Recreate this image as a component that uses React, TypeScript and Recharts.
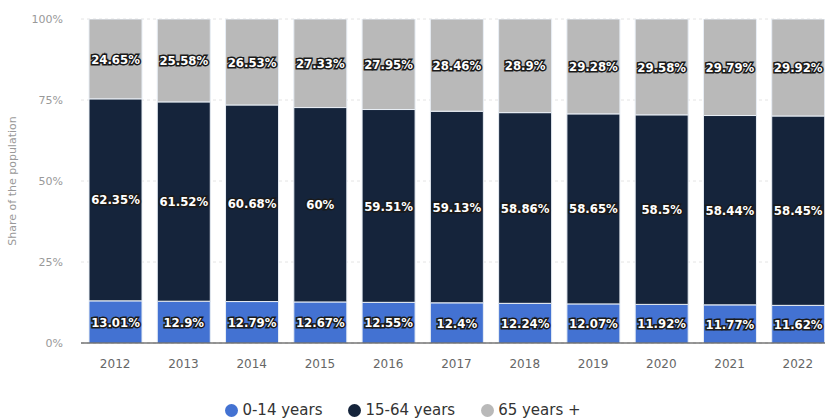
import { BarChart, Bar, XAxis, YAxis, CartesianGrid, Legend, LabelList } from "recharts";

const years = ["2012", "2013", "2014", "2015", "2016", "2017", "2018", "2019", "2020", "2021", "2022"];
const young = [13.01, 12.9, 12.79, 12.67, 12.55, 12.4, 12.24, 12.07, 11.92, 11.77, 11.62];
const working = [62.35, 61.52, 60.68, 60, 59.51, 59.13, 58.86, 58.65, 58.5, 58.44, 58.45];
const elderly = [24.65, 25.58, 26.53, 27.33, 27.95, 28.46, 28.9, 29.28, 29.58, 29.79, 29.92];
const yTicks = [0, 25, 50, 75, 100];

const data = years.map((year, i) => ({
  year,
  young: young[i],
  working: working[i],
  elderly: elderly[i],
}));

const labelStyle = {
  fill: "#fff",
  stroke: "#1a1a1a",
  strokeWidth: 3,
  paintOrder: "stroke",
  fontFamily: "'DejaVu Sans Condensed', 'DejaVu Sans', sans-serif",
  fontWeight: 700,
  fontSize: 13,
} as const;

const fmt = (v: any) => `${v}%`;

export default function App() {
  return (
    <div style={{ position: "absolute", left: 0, top: 0, width: 825, height: 419, overflow: "hidden", background: "#fff" }}>
      <BarChart
        width={840}
        height={419}
        data={data}
        margin={{ top: 19, right: 8, left: 0, bottom: 0 }}
        style={{ fontFamily: "'DejaVu Sans', sans-serif" }}
      >
        <CartesianGrid vertical={false} stroke="#e4e4e4" strokeDasharray="3 3" />
        <XAxis
          dataKey="year"
          axisLine={{ stroke: "#333" }}
          tickLine={false}
          tickMargin={10}
          height={32}
          tick={{ fill: "#666", fontSize: 12 }}
        />
        <YAxis
          width={81}
          domain={[0, 100]}
          ticks={yTicks}
          allowDataOverflow
          axisLine={false}
          tickLine={false}
          tickSize={0}
          tickMargin={18}
          tickFormatter={(v) => `${v}%`}
          tick={{ fill: "#999", fontSize: 11 }}
          label={{
            value: "Share of the population",
            angle: -90,
            position: "insideLeft",
            offset: 12,
            style: { textAnchor: "middle", fill: "#999", fontSize: 11 },
          }}
        />
        <Legend
          verticalAlign="bottom"
          iconType="circle"
          iconSize={13}
          formatter={(value) => (
            <span style={{ color: "#333", fontSize: 15, marginRight: 16 }}>{value}</span>
          )}
          wrapperStyle={{ paddingTop: 25 }}
        />
        <Bar dataKey="young" name="0-14 years" stackId="a" fill="#4372d2" stroke="#e8eef5" strokeWidth={1} barSize={53} isAnimationActive={false}>
          <LabelList dataKey="young" position="center" formatter={fmt} style={labelStyle} />
        </Bar>
        <Bar dataKey="working" name="15-64 years" stackId="a" fill="#15243b" stroke="#e8eef5" strokeWidth={1} barSize={53} isAnimationActive={false}>
          <LabelList dataKey="working" position="center" formatter={fmt} style={labelStyle} />
        </Bar>
        <Bar dataKey="elderly" name="65 years +" stackId="a" fill="#b9b9b9" stroke="#e8eef5" strokeWidth={1} barSize={53} isAnimationActive={false}>
          <LabelList dataKey="elderly" position="center" formatter={fmt} style={labelStyle} />
        </Bar>
      </BarChart>
    </div>
  );
}
